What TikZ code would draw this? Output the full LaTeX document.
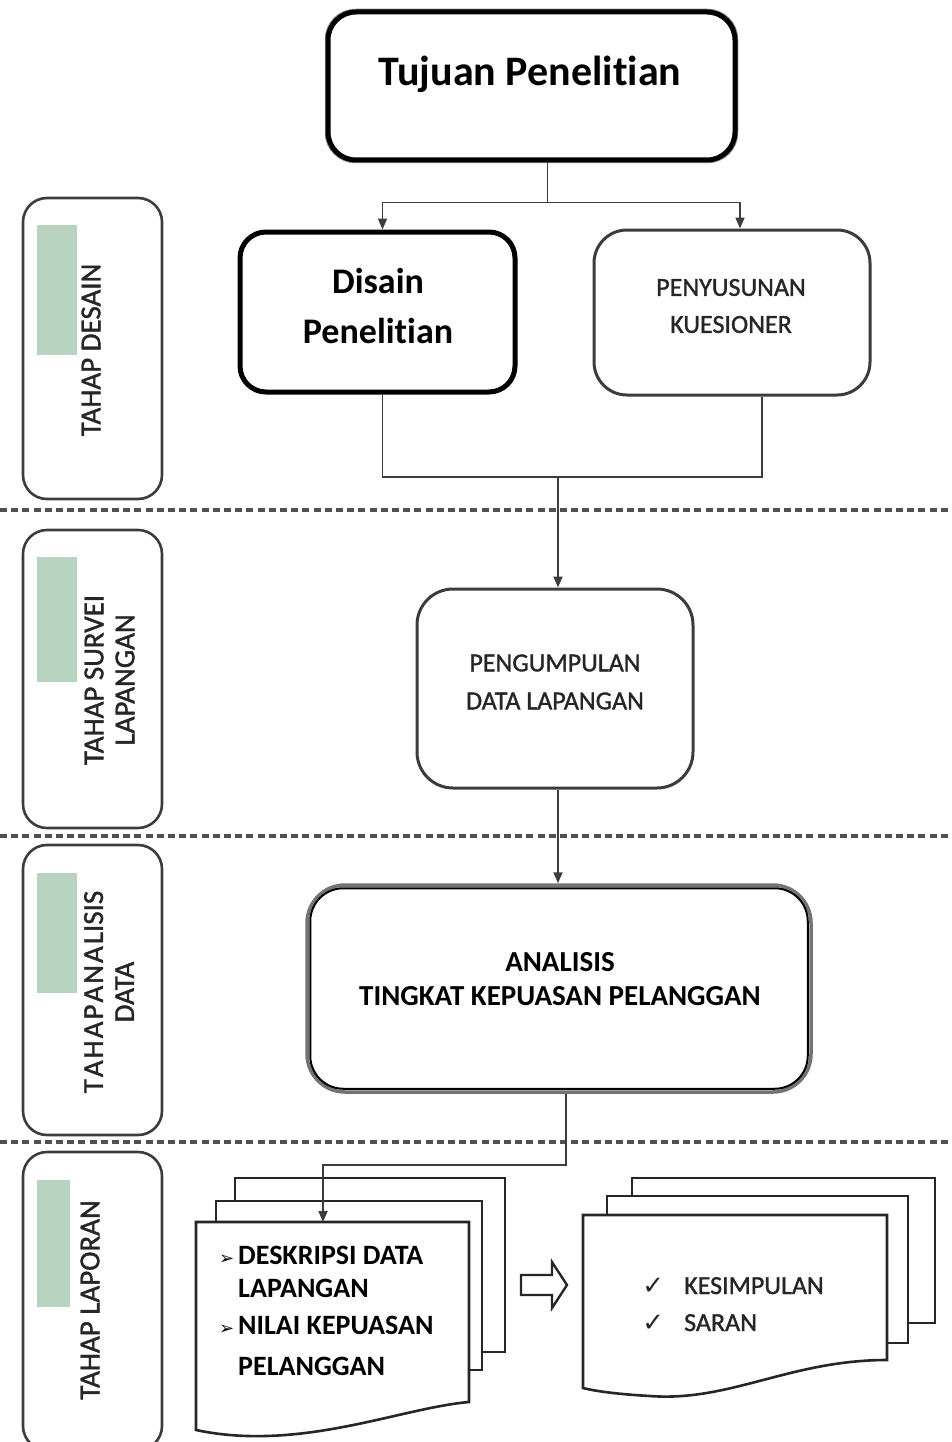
\documentclass[tikz,border=0pt]{standalone}
\usepackage{fontspec}
\setmainfont{Carlito}[Ligatures={NoCommon},RawFeature={-liga;-clig;-calt;-dlig}]
\newfontfamily\medfont{Carlito}[FakeBold=1.3,Ligatures={NoCommon}]
\newfontfamily\symfont{DejaVu Sans}
\usetikzlibrary{arrows.meta,calc}
\definecolor{lineg}{HTML}{3C3C3C}
\definecolor{txtg}{HTML}{262626}
\definecolor{greenbar}{HTML}{B8D4C0}
\definecolor{sepg}{HTML}{505050}
\newcommand{\fs}[2]{\fontsize{#1}{#2}\selectfont}
\newcommand{\bul}{{\symfont\fs{18}{18}➢}\hspace{4pt}}
\newcommand{\chk}{{\symfont\fs{26}{26}✓}\hspace{20pt}}
\tikzset{
  conn/.style={draw=lineg, line width=1.8pt},
  arr/.style={conn, -{Triangle[length=11pt,width=9pt]}},
  sepline/.style={draw=sepg, line width=3.5pt, dash pattern=on 7pt off 4.2pt},
  phasebox/.style={rectangle, draw=lineg, line width=2.6pt, rounded corners=24pt, inner sep=0pt},
  greenbox/.style={fill=greenbar, draw=none},
  phasetxt/.style={rotate=90, text=txtg, font=\medfont\fs{29}{31}, align=center, inner sep=0pt},
  softbox/.style={rectangle, inner sep=0pt, draw=lineg, line width=3pt, rounded corners=33pt},
  hardbox/.style={rectangle, inner sep=0pt, draw=black, line width=5pt, rounded corners=26pt},
  docshape/.style={draw=black!85, line width=2.6pt, fill=white, line join=miter},
  boldtxt/.style={text=black, align=center, inner sep=0pt},
  regtxt/.style={text=txtg, align=center, inner sep=0pt},
}
\begin{document}
\begin{tikzpicture}[x=1pt,y=-1pt]
\useasboundingbox (0,0) rectangle (952,1442);
\clip (0,0) rectangle (952,1442);

% separators
\draw[sepline] (0,510) -- (952,510);
\draw[sepline] (0,836) -- (952,836);
\draw[sepline] (0,1142) -- (952,1142);

% phase labels
\node[phasebox, minimum width=139pt, minimum height=301pt] (ph1) at (92.5,348.5) {};
\fill[greenbox] (37,225) rectangle (77,355);
\node[phasetxt] (ph1t) at (91,350) {TAHAP DESAIN};

\node[phasebox, minimum width=139pt, minimum height=298pt] (ph2) at (92.5,679) {};
\fill[greenbox] (37,557) rectangle (77,682);
\node[phasetxt] (ph2t) at (109.5,680) {TAHAP SURVEI\\LAPANGAN};

\node[phasebox, minimum width=139pt, minimum height=290pt] (ph3) at (92.5,990) {};
\fill[greenbox] (37,873) rectangle (77,993);
\node[phasetxt] (ph3t) at (109,992) {T\hspace{2pt}A\hspace{2pt}H\hspace{2pt}A\hspace{2pt}P\hspace{2pt}A\hspace{2pt}N\hspace{2pt}A\hspace{2pt}LISIS\\DATA};

\node[phasebox, minimum width=139pt, minimum height=298pt] (ph4) at (92.5,1301) {};
\fill[greenbox] (37,1180) rectangle (70,1307);
\node[phasetxt] (ph4t) at (90,1300) {TAHAP LAPORAN};

% main boxes
\node[rectangle, draw=black!45, line width=1.5pt, rounded corners=30pt, minimum width=412pt, minimum height=153pt] (tujuanhalo) at (531.5,86) {};
\node[hardbox, rounded corners=28pt, minimum width=407pt, minimum height=148pt] (tujuan) at (531.5,86) {};
\node[boldtxt, font=\fs{42}{50}\bfseries] (tujuanT) at (530,74) {Tujuan Penelit\kern0pt ian};

\node[hardbox, minimum width=275pt, minimum height=160pt] (disain) at (377.5,312) {};
\node[boldtxt, font=\fs{36}{50}\bfseries] (disainT) at (378,306) {Disain\\Penelit\kern0pt ian};

\node[softbox, minimum width=276pt, minimum height=165pt] (penyusunan) at (732,312.5) {};
\node[regtxt, font=\medfont\fs{26}{37}] (penyusunanT) at (731,306) {PENYUSUNAN\\KUESIONER};

\node[softbox, rounded corners=36pt, minimum width=276pt, minimum height=199pt] (pengumpulan) at (555,688.5) {};
\node[regtxt, font=\medfont\fs{26}{38}] (pengumpulanT) at (555,682) {PENGUMPULAN\\DATA LAPANGAN};

\node[softbox, draw=black!55, line width=3.5pt, rounded corners=38pt, minimum width=504pt, minimum height=207pt] (analisis) at (559,988.5) {};
\draw[black, line width=2pt, rounded corners=33pt] ($(analisis.north west)+(5,5)$) rectangle ($(analisis.south east)+(-5,-5)$);
\node[boldtxt, font=\fs{29}{34}\bfseries] (analisisT) at (560,979) {ANALISIS\\TINGKAT KEPUASAN PELANGGAN};

% connectors top
\draw[conn] ([xshift=16pt]tujuan.south) -- ++(0,40) coordinate (split);
\draw[arr] (split) -| ([xshift=5pt]disain.north);
\draw[arr] (split) -| ([xshift=8pt]penyusunan.north);
\coordinate (join) at (558,477);
\draw[conn] ([xshift=5pt]disain.south) |- (join) -| ([xshift=30pt]penyusunan.south);
\draw[arr] (join) -- (join |- pengumpulan.north);
\draw[arr] ([xshift=3pt]pengumpulan.south) -- ([xshift=3pt]pengumpulan.south |- analisis.north);

% documents left
\draw[docshape] (235,1178) rectangle (505,1352);
\draw[docshape] (216,1201) rectangle (482,1370);
\draw[docshape] (196,1222) -- (469,1222) -- (469,1402) .. controls (400,1408) and (300,1452) .. (196,1430) -- cycle;
\coordinate (docL) at (323,1222);
\draw[arr] ([xshift=7pt]analisis.south) -- ++(0,71) -| (docL);

\node[anchor=base west, inner sep=0pt, font=\fs{28}{30}\bfseries] (d1) at (238,1264) {\llap{\bul}DESKRIPSI DATA};
\node[anchor=base west, inner sep=0pt, font=\fs{28}{30}\bfseries] (d2) at (238,1297) {LAPANGAN};
\node[anchor=base west, inner sep=0pt, font=\fs{28}{30}\bfseries] (d3) at (238,1334) {\llap{\bul}NILAI KEPUASAN};
\node[anchor=base west, inner sep=0pt, font=\fs{28}{30}\bfseries] (d4) at (238,1375) {PELANGGAN};

% block arrow
\draw[line width=2.4pt, draw=black!85, fill=white, line join=miter] (521,1275) -- (552,1275) -- (552,1262) -- (567,1285) -- (552,1308) -- (552,1295) -- (521,1295) -- cycle;

% documents right
\draw[docshape] (632,1178) rectangle (935,1323);
\draw[docshape] (607,1196) rectangle (908,1343);
\draw[docshape] (583,1215) -- (887,1215) -- (887,1360) .. controls (790,1360) and (730,1402) .. (650,1396) .. controls (615,1394) and (595,1391) .. (583,1388) -- cycle;
\node[anchor=base west, inner sep=0pt, text=txtg, font=\medfont\fs{26}{28}] (k1) at (684,1294) {\llap{\chk}KESIMPULAN};
\node[anchor=base west, inner sep=0pt, text=txtg, font=\medfont\fs{26}{28}] (k2) at (684,1331) {\llap{\chk}SARAN};
\end{tikzpicture}
\end{document}
